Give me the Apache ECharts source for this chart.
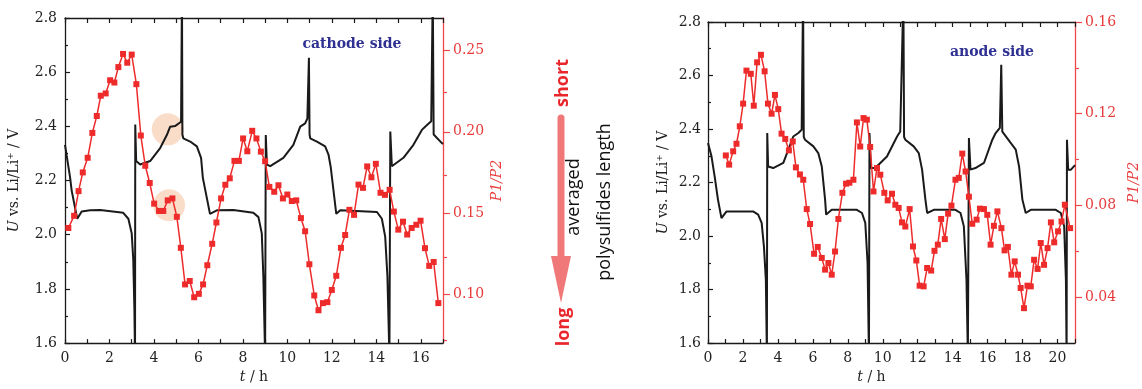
<!DOCTYPE html>
<html>
<head>
<meta charset="utf-8">
<script src="https://cdn.jsdelivr.net/npm/echarts@6/dist/echarts.min.js"></script>
<style>
html,body{margin:0;padding:0;background:#fff;}
#chart{width:1142px;height:389px;}
</style>
</head>
<body>
<div id="chart"></div>
<script>
// ---------------- DATA ----------------
// cathode side: cell voltage U (V) vs time t (h)
const cathodeVoltage = [[0,2.332],[0.23,2.211],[0.30,2.163],[0.55,2.059],[0.75,2.086],[1.13,2.090],[1.58,2.091],[2.62,2.081],[2.85,2.059],[3.00,2.005],[3.07,1.909],[3.12,1.727],[3.15,1.55],[3.16,2.407],[3.20,2.272],[3.38,2.259],[3.83,2.272],[4.28,2.320],[4.58,2.368],[4.73,2.399],[4.95,2.401],[5.22,2.417],[5.26,2.9],[5.28,2.37],[5.32,2.356],[5.63,2.344],[5.93,2.326],[6.12,2.284],[6.20,2.21],[6.52,2.077],[6.83,2.090],[7.57,2.091],[8.47,2.081],[8.70,2.065],[8.85,2.005],[8.92,1.847],[9.00,1.55],[9.03,2.368],[9.08,2.259],[9.23,2.253],[9.82,2.284],[10.27,2.332],[10.58,2.399],[10.80,2.411],[10.90,2.429],[10.97,2.653],[11.00,2.37],[11.03,2.356],[11.33,2.344],[11.70,2.326],[11.85,2.296],[11.95,2.25],[12.20,2.077],[12.38,2.090],[14.03,2.084],[14.25,2.059],[14.40,1.993],[14.50,1.847],[14.59,1.55],[14.63,2.381],[14.70,2.253],[15.22,2.284],[15.67,2.332],[16.05,2.387],[16.28,2.405],[16.47,2.419],[16.54,2.9],[16.58,2.37],[16.61,2.368],[16.95,2.338],[17.0,2.335]];
// cathode side: P1/P2 ratio vs time
const cathodeRatio = [[0.15,0.1408],[0.41,0.1483],[0.61,0.1635],[0.80,0.175],[1.02,0.184],[1.23,0.1993],[1.43,0.2097],[1.61,0.2222],[1.83,0.2236],[2.03,0.2317],[2.22,0.2303],[2.40,0.2398],[2.61,0.2479],[2.80,0.2425],[3.00,0.2475],[3.21,0.2293],[3.41,0.1977],[3.61,0.1791],[3.81,0.1685],[4.01,0.1558],[4.23,0.1513],[4.42,0.1513],[4.62,0.1578],[4.83,0.159],[5.03,0.1477],[5.21,0.1286],[5.40,0.1061],[5.61,0.1082],[5.81,0.0982],[6.02,0.1003],[6.21,0.1061],[6.40,0.1179],[6.62,0.1311],[6.81,0.1442],[7.02,0.159],[7.21,0.1674],[7.41,0.1714],[7.62,0.1821],[7.82,0.1821],[8.01,0.1959],[8.20,0.188],[8.42,0.2006],[8.61,0.1959],[8.81,0.1878],[9.00,0.1819],[9.19,0.1661],[9.41,0.1631],[9.60,0.1671],[9.80,0.159],[10.0,0.1614],[10.2,0.1574],[10.4,0.1578],[10.61,0.1469],[10.80,0.1388],[10.99,0.1185],[11.21,0.0993],[11.40,0.0902],[11.60,0.0946],[11.80,0.0952],[12.0,0.1027],[12.2,0.1114],[12.41,0.1286],[12.6,0.1365],[12.79,0.152],[13.0,0.1489],[13.2,0.1675],[13.4,0.1655],[13.59,0.1787],[13.78,0.172],[13.98,0.1803],[14.19,0.1625],[14.39,0.1612],[14.6,0.1643],[14.79,0.1509],[14.99,0.1398],[15.2,0.1447],[15.39,0.1368],[15.59,0.1408],[15.8,0.1428],[15.99,0.1453],[16.19,0.1284],[16.38,0.1175],[16.58,0.1199],[16.79,0.0946]];
// anode side: cell voltage
const anodeVoltage = [[0,2.348],[0.20,2.298],[0.38,2.223],[0.57,2.136],[0.77,2.067],[1.06,2.092],[2.58,2.092],[2.87,2.080],[3.07,2.049],[3.20,1.961],[3.31,1.837],[3.37,1.55],[3.39,2.385],[3.44,2.260],[3.73,2.254],[4.31,2.273],[4.88,2.372],[5.17,2.385],[5.36,2.397],[5.44,2.9],[5.48,2.37],[5.55,2.360],[6.03,2.335],[6.31,2.310],[6.51,2.260],[6.70,2.136],[6.76,2.080],[7.08,2.098],[8.52,2.098],[8.81,2.086],[9.00,2.049],[9.13,1.899],[9.21,1.55],[9.24,2.385],[9.32,2.254],[9.57,2.254],[10.24,2.297],[10.82,2.372],[11.00,2.391],[11.18,2.9],[11.22,2.37],[11.29,2.360],[11.77,2.335],[12.06,2.310],[12.25,2.248],[12.44,2.136],[12.54,2.086],[12.92,2.098],[14.16,2.098],[14.45,2.086],[14.64,2.036],[14.79,1.837],[14.87,1.55],[14.93,2.366],[15.02,2.248],[15.30,2.254],[15.79,2.273],[16.27,2.360],[16.46,2.385],[16.70,2.404],[16.78,2.64],[16.84,2.39],[16.90,2.385],[17.32,2.348],[17.61,2.323],[17.80,2.260],[17.99,2.136],[18.18,2.086],[18.47,2.098],[19.90,2.098],[20.19,2.086],[20.38,2.036],[20.48,1.837],[20.52,1.55],[20.54,2.360],[20.61,2.248],[20.77,2.248],[21.0,2.265]];
// anode side: P1/P2 ratio
const anodeRatio = [[1.02,0.1018],[1.21,0.0978],[1.44,0.1036],[1.63,0.1069],[1.82,0.1145],[2.01,0.1244],[2.20,0.1388],[2.45,0.1374],[2.62,0.1235],[2.81,0.1424],[3.03,0.1457],[3.24,0.1385],[3.43,0.1244],[3.64,0.12],[3.83,0.1282],[4.02,0.122],[4.21,0.1113],[4.42,0.109],[4.63,0.104],[4.85,0.1079],[5.03,0.0966],[5.26,0.0935],[5.45,0.0912],[5.65,0.0784],[5.84,0.0719],[6.07,0.0589],[6.28,0.0619],[6.51,0.0571],[6.70,0.052],[6.89,0.0549],[7.08,0.0498],[7.27,0.0599],[7.46,0.0741],[7.69,0.0855],[7.90,0.0895],[8.09,0.0899],[8.32,0.0912],[8.52,0.1162],[8.71,0.1057],[8.90,0.1181],[9.09,0.1174],[9.28,0.1055],[9.47,0.0861],[9.67,0.0963],[9.86,0.0934],[10.09,0.0855],[10.28,0.0822],[10.53,0.0851],[10.72,0.0803],[10.91,0.0789],[11.10,0.0726],[11.29,0.0708],[11.54,0.0784],[11.73,0.0621],[11.92,0.056],[12.11,0.045],[12.34,0.0447],[12.54,0.0527],[12.77,0.0516],[12.96,0.0602],[13.15,0.0629],[13.34,0.0741],[13.55,0.0653],[13.74,0.0764],[13.93,0.0799],[14.16,0.0912],[14.35,0.092],[14.55,0.1026],[14.74,0.0948],[14.93,0.0838],[15.12,0.072],[15.37,0.0738],[15.56,0.0786],[15.79,0.0784],[15.98,0.0759],[16.17,0.0629],[16.36,0.0711],[16.56,0.0774],[16.79,0.0701],[16.97,0.0604],[17.16,0.0619],[17.36,0.0498],[17.55,0.0556],[17.74,0.0498],[17.89,0.044],[18.08,0.0352],[18.28,0.045],[18.47,0.0447],[18.66,0.0563],[18.86,0.0523],[19.04,0.0636],[19.23,0.0541],[19.43,0.0614],[19.62,0.0726],[19.81,0.0639],[20.03,0.0687],[20.23,0.073],[20.42,0.0803],[20.72,0.0701]];
// highlighted regions (cathode panel): [t, U] and [t, P1/P2]
const highlightVoltage = [[4.62, 2.389]];
const highlightRatio = [[4.68, 0.1548]];
// tick labels
const cathodeRatioLabels = [0.10,0.15,0.20,0.25];
const cathodeRatioMinor = [0.075,0.125,0.175,0.225];
const anodeRatioLabels = [0.04,0.08,0.12,0.16];
const anodeRatioMinor = [0.06,0.10,0.14];
const panelTitles = ['cathode side','anode side'];

// ---------------- STYLE ----------------
const SERIF = '"DejaVu Serif", "Liberation Serif", serif';
const BLACK = '#1a1a1a';
const RED = '#ee2b2b';
const RED_AXIS = '#f04848';
const NAVY = '#2e3192';
const GRID_L = {left: 65, top: 18, width: 378, height: 330};
const GRID_R = {left: 708, top: 22, width: 367, height: 321};

function xBottom(grid, max, gap, pad) {
  return {
    gridIndex: grid, type: 'value', position: 'bottom', min: 0, max: max, interval: 2,
    axisLine: {show: true, onZero: false, lineStyle: {color: BLACK, width: 1.3}},
    axisTick: {show: true, inside: true, length: 4, lineStyle: {color: BLACK, width: 1.2}},
    minorTick: {show: true, splitNumber: 2, length: 4, lineStyle: {color: BLACK, width: 1.2}},
    axisLabel: {color: '#222', fontFamily: SERIF, fontSize: 14, margin: 8,
      formatter: v => (Math.abs(v % 2) < 1e-9 ? String(v) : '')},
    splitLine: {show: false}, minorSplitLine: {show: false},
    name: '{i|t} / h', nameLocation: 'middle', nameGap: gap,
    nameTextStyle: {color: '#222', fontFamily: SERIF, fontSize: 14, padding: pad,
      rich: {i: {fontStyle: 'italic', fontFamily: SERIF, fontSize: 14, color: '#222'}}}
  };
}
function xTop(grid, max) {
  return {
    gridIndex: grid, type: 'value', position: 'top', min: 0, max: max, interval: 1,
    axisLine: {show: true, onZero: false, lineStyle: {color: BLACK, width: 1.3}},
    axisTick: {show: true, inside: true, length: 5, lineStyle: {color: BLACK, width: 1.2}},
    axisLabel: {show: false}, splitLine: {show: false}
  };
}
function xHidden(grid, max) {
  return {gridIndex: grid, type: 'value', min: 0, max: max, show: false};
}
function yVolt(grid, gap, margin) {
  return {
    gridIndex: grid, type: 'value', position: 'left', min: 1.6, max: 2.8, interval: 0.2,
    axisLine: {show: true, onZero: false, lineStyle: {color: BLACK, width: 1.3}},
    axisTick: {show: true, inside: true, length: 5, lineStyle: {color: BLACK, width: 1.2}},
    minorTick: {show: true, splitNumber: 2, length: 3, lineStyle: {color: BLACK, width: 1.2}},
    axisLabel: {color: '#222', fontFamily: SERIF, fontSize: 14, margin: margin, formatter: v => v.toFixed(1)},
    splitLine: {show: false}, minorSplitLine: {show: false},
    name: '{i|U} vs. Li/Li⁺ / V', nameLocation: 'middle', nameGap: gap, nameRotate: 90,
    nameTextStyle: {color: '#222', fontFamily: SERIF, fontSize: 14,
      rich: {i: {fontStyle: 'italic', fontFamily: SERIF, fontSize: 14, color: '#222'}}}
  };
}
function yRatio(grid, min, max, labels, gap, margin) {
  return {
    gridIndex: grid, type: 'value', position: 'right', min: min, max: max,
    axisLine: {show: true, onZero: false, lineStyle: {color: RED_AXIS, width: 1.3}},
    axisTick: {show: true, inside: false, length: 7, customValues: labels, lineStyle: {color: RED_AXIS, width: 1.2}},
    axisLabel: {customValues: labels, color: '#e83a3a', fontFamily: SERIF, fontSize: 14, margin: margin, formatter: v => v.toFixed(2)},
    splitLine: {show: false},
    name: 'P1/P2', nameLocation: 'middle', nameGap: gap, nameRotate: 90,
    nameTextStyle: {color: '#e83a3a', fontFamily: SERIF, fontSize: 14, fontStyle: 'italic'}
  };
}
function yRatioMinor(grid, min, max, minor) {
  return {
    gridIndex: grid, type: 'value', position: 'right', min: min, max: max,
    axisLine: {show: false, onZero: false},
    axisTick: {show: true, inside: false, length: 4, customValues: minor, lineStyle: {color: RED_AXIS, width: 1.2}},
    axisLabel: {show: false}, splitLine: {show: false}
  };
}

const option = {
  animation: false,
  backgroundColor: '#fff',
  grid: [GRID_L, GRID_R, GRID_L, GRID_R],
  xAxis: [
    xBottom(0, 17, 24, [0,0,0,0]),
    xTop(0, 17),
    xBottom(1, 21, 24, [0,40,0,0]),
    xTop(1, 21),
    xHidden(2, 17),
    xHidden(3, 21)
  ],
  yAxis: [
    yVolt(0, 44, 8),
    yRatio(0, 0.07, 0.27, cathodeRatioLabels, 47, 10),
    yVolt(1, 38, 7),
    yRatio(1, 0.02, 0.16, anodeRatioLabels, 52, 10),
    yRatioMinor(2, 0.07, 0.27, cathodeRatioMinor),
    yRatioMinor(3, 0.02, 0.16, anodeRatioMinor)
  ],
  series: [
    {type: 'scatter', xAxisIndex: 0, yAxisIndex: 0, data: highlightVoltage, symbol: 'circle', symbolSize: 32,
     itemStyle: {color: 'rgba(244,178,132,0.55)'}, z: 1, silent: true},
    {type: 'scatter', xAxisIndex: 0, yAxisIndex: 1, data: highlightRatio, symbol: 'circle', symbolSize: 32,
     itemStyle: {color: 'rgba(244,178,132,0.55)'}, z: 1, silent: true},
    {type: 'line', xAxisIndex: 0, yAxisIndex: 0, data: cathodeVoltage, symbol: 'none', clip: true,
     lineStyle: {color: BLACK, width: 2}, z: 3},
    {type: 'line', xAxisIndex: 0, yAxisIndex: 1, data: cathodeRatio, symbol: 'rect', symbolSize: 6, clip: true,
     lineStyle: {color: RED, width: 1.5}, itemStyle: {color: RED}, z: 4},
    {type: 'line', xAxisIndex: 2, yAxisIndex: 2, data: anodeVoltage, symbol: 'none', clip: true,
     lineStyle: {color: BLACK, width: 2}, z: 3},
    {type: 'line', xAxisIndex: 2, yAxisIndex: 3, data: anodeRatio, symbol: 'rect', symbolSize: 6, clip: true,
     lineStyle: {color: RED, width: 1.5}, itemStyle: {color: RED}, z: 4}
  ],
  graphic: [
    {type: 'text', x: 352, y: 44, style: {text: panelTitles[0], fill: NAVY, font: 'bold 14px "DejaVu Serif", serif', align: 'center', verticalAlign: 'middle'}},
    {type: 'text', x: 992, y: 52, style: {text: panelTitles[1], fill: NAVY, font: 'bold 14px "DejaVu Serif", serif', align: 'center', verticalAlign: 'middle'}},
    {type: 'line', shape: {x1: 561, y1: 118, x2: 561, y2: 262}, style: {stroke: '#f07878', lineWidth: 7, lineCap: 'round'}},
    {type: 'polygon', shape: {points: [[551, 256], [571, 256], [561, 303]]}, style: {fill: '#f07878'}},
    {type: 'text', x: 563, y: 83, rotation: Math.PI / 2, style: {text: 'short', fill: '#e8262b', font: 'bold 18px "Open Sans", sans-serif', align: 'center', verticalAlign: 'middle'}},
    {type: 'text', x: 564, y: 327, rotation: Math.PI / 2, style: {text: 'long', fill: '#e8262b', font: 'bold 18px "Open Sans", sans-serif', align: 'center', verticalAlign: 'middle'}},
    {type: 'text', x: 574, y: 197, rotation: Math.PI / 2, style: {text: 'averaged', fill: '#111', font: '18px "Open Sans", sans-serif', align: 'center', verticalAlign: 'middle'}},
    {type: 'text', x: 605, y: 202, rotation: Math.PI / 2, style: {text: 'polysulfides length', fill: '#111', font: '18px "Open Sans", sans-serif', align: 'center', verticalAlign: 'middle'}}
  ]
};

const chart = echarts.init(document.getElementById('chart'), null, {renderer: 'canvas'});
chart.setOption(option);
</script>
</body>
</html>
